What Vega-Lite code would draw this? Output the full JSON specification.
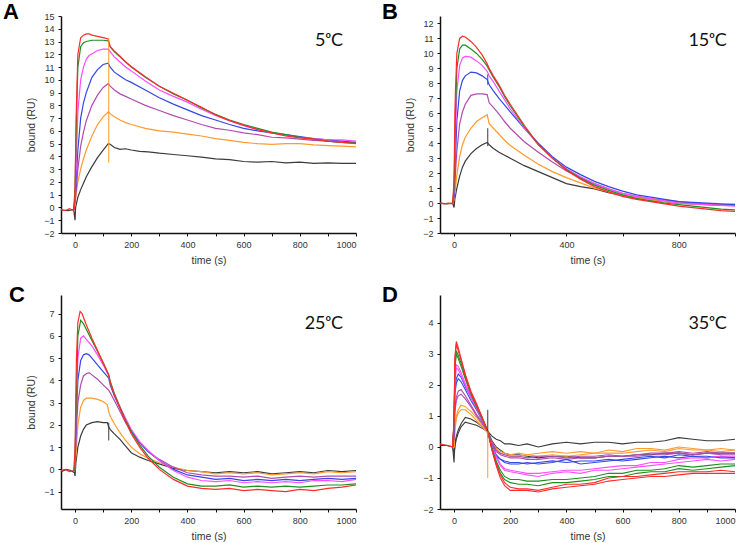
{
"$schema":"https://vega.github.io/schema/vega-lite/v6.json",
"padding":{"left":3,"top":1,"right":0,"bottom":0},
"config":{"view":{"stroke":null},"axis":{"grid":false,"domainColor":"#111","domainWidth":1.5,"tickColor":"#111","tickWidth":1,"tickSize":3,"labelFont":"Liberation Sans","labelFontSize":9,"labelColor":"#333","labelPadding":4,"titleFont":"Liberation Sans","titleFontSize":10.5,"titleFontWeight":"normal","titleColor":"#333"},"axisX":{"titlePadding":6},"axisY":{"titlePadding":7}},
"datasets":{
"S":[{"p":"A","c":"o","t":120,"y":3.5,"y2":13.3},{"p":"B","c":"k","t":120,"y":3.8,"y2":5.0},{"p":"B","c":"b","t":120,"y":7.9,"y2":8.6},{"p":"C","c":"k","t":120,"y":1.3,"y2":2.1},{"p":"D","c":"k","t":120,"y":0.3,"y2":1.2},{"p":"D","c":"o","t":120,"y":-1.0,"y2":0.5}],
"L":[{"p":"A","k":"L","t":-256,"y":14.76,"txt":"A"},{"p":"A","k":"T","t":954,"y":12.65,"txt":"5ᵒC"},
{"p":"B","k":"L","t":-256,"y":12.28,"txt":"B"},{"p":"B","k":"T","t":971,"y":10.5,"txt":"15ᵒC"},
{"p":"C","k":"L","t":-235,"y":7.53,"txt":"C"},{"p":"C","k":"T","t":954,"y":6.31,"txt":"25ᵒC"},
{"p":"D","k":"L","t":-256,"y":4.67,"txt":"D"},{"p":"D","k":"T","t":971,"y":3.8,"txt":"35ᵒC"}],
"A":[
{"c":"k","t":-50,"y":-0.2},{"c":"k","t":-25,"y":-0.25},{"c":"k","t":-5,"y":-0.15},{"c":"k","t":0,"y":-1.0},{"c":"k","t":2,"y":0.0},{"c":"k","t":5,"y":0.3},{"c":"k","t":10,"y":0.8},{"c":"k","t":20,"y":1.4},{"c":"k","t":30,"y":1.9},{"c":"k","t":40,"y":2.4},{"c":"k","t":60,"y":3.2},{"c":"k","t":80,"y":3.9},{"c":"k","t":100,"y":4.5},{"c":"k","t":118,"y":5.0},{"c":"k","t":125,"y":4.95},{"c":"k","t":140,"y":4.7},{"c":"k","t":160,"y":4.55},{"c":"k","t":180,"y":4.6},{"c":"k","t":200,"y":4.5},{"c":"k","t":230,"y":4.4},{"c":"k","t":260,"y":4.35},{"c":"k","t":300,"y":4.25},{"c":"k","t":350,"y":4.15},{"c":"k","t":400,"y":4.05},{"c":"k","t":450,"y":3.95},{"c":"k","t":500,"y":3.8},{"c":"k","t":550,"y":3.75},{"c":"k","t":600,"y":3.6},{"c":"k","t":650,"y":3.55},{"c":"k","t":700,"y":3.6},{"c":"k","t":750,"y":3.5},{"c":"k","t":800,"y":3.55},{"c":"k","t":850,"y":3.45},{"c":"k","t":900,"y":3.5},{"c":"k","t":950,"y":3.45},{"c":"k","t":1000,"y":3.45},
{"c":"o","t":-5,"y":-0.2},{"c":"o","t":0,"y":0.3},{"c":"o","t":5,"y":1.2},{"c":"o","t":10,"y":2.0},{"c":"o","t":20,"y":3.0},{"c":"o","t":30,"y":3.8},{"c":"o","t":40,"y":4.5},{"c":"o","t":60,"y":5.6},{"c":"o","t":80,"y":6.5},{"c":"o","t":100,"y":7.1},{"c":"o","t":118,"y":7.5},{"c":"o","t":125,"y":7.35},{"c":"o","t":140,"y":7.1},{"c":"o","t":160,"y":6.85},{"c":"o","t":180,"y":6.65},{"c":"o","t":200,"y":6.5},{"c":"o","t":250,"y":6.2},{"c":"o","t":300,"y":6.0},{"c":"o","t":350,"y":5.9},{"c":"o","t":400,"y":5.75},{"c":"o","t":450,"y":5.6},{"c":"o","t":500,"y":5.4},{"c":"o","t":550,"y":5.25},{"c":"o","t":600,"y":5.1},{"c":"o","t":650,"y":5.0},{"c":"o","t":700,"y":4.95},{"c":"o","t":750,"y":5.0},{"c":"o","t":800,"y":5.0},{"c":"o","t":850,"y":4.9},{"c":"o","t":900,"y":4.85},{"c":"o","t":950,"y":4.8},{"c":"o","t":1000,"y":4.75},
{"c":"p","t":-5,"y":-0.2},{"c":"p","t":0,"y":0.5},{"c":"p","t":5,"y":1.5},{"c":"p","t":10,"y":3.0},{"c":"p","t":20,"y":4.8},{"c":"p","t":30,"y":5.9},{"c":"p","t":40,"y":6.8},{"c":"p","t":60,"y":8.0},{"c":"p","t":80,"y":8.8},{"c":"p","t":100,"y":9.4},{"c":"p","t":118,"y":9.7},{"c":"p","t":125,"y":9.5},{"c":"p","t":140,"y":9.2},{"c":"p","t":160,"y":8.9},{"c":"p","t":180,"y":8.7},{"c":"p","t":200,"y":8.5},{"c":"p","t":250,"y":8.0},{"c":"p","t":300,"y":7.6},{"c":"p","t":350,"y":7.2},{"c":"p","t":400,"y":6.85},{"c":"p","t":450,"y":6.5},{"c":"p","t":500,"y":6.2},{"c":"p","t":550,"y":6.05},{"c":"p","t":600,"y":5.85},{"c":"p","t":650,"y":5.7},{"c":"p","t":700,"y":5.5},{"c":"p","t":750,"y":5.45},{"c":"p","t":800,"y":5.35},{"c":"p","t":850,"y":5.25},{"c":"p","t":900,"y":5.2},{"c":"p","t":950,"y":5.1},{"c":"p","t":1000,"y":5.05},
{"c":"b","t":-5,"y":-0.2},{"c":"b","t":0,"y":0.7},{"c":"b","t":5,"y":2.5},{"c":"b","t":10,"y":4.5},{"c":"b","t":20,"y":7.0},{"c":"b","t":30,"y":8.2},{"c":"b","t":40,"y":9.0},{"c":"b","t":60,"y":10.2},{"c":"b","t":80,"y":10.8},{"c":"b","t":100,"y":11.2},{"c":"b","t":118,"y":11.3},{"c":"b","t":125,"y":11.0},{"c":"b","t":140,"y":10.6},{"c":"b","t":160,"y":10.3},{"c":"b","t":180,"y":10.0},{"c":"b","t":200,"y":9.8},{"c":"b","t":250,"y":9.2},{"c":"b","t":300,"y":8.6},{"c":"b","t":350,"y":8.1},{"c":"b","t":400,"y":7.65},{"c":"b","t":450,"y":7.2},{"c":"b","t":500,"y":6.85},{"c":"b","t":550,"y":6.5},{"c":"b","t":600,"y":6.2},{"c":"b","t":650,"y":6.0},{"c":"b","t":700,"y":5.85},{"c":"b","t":750,"y":5.7},{"c":"b","t":800,"y":5.55},{"c":"b","t":850,"y":5.4},{"c":"b","t":900,"y":5.3},{"c":"b","t":950,"y":5.2},{"c":"b","t":1000,"y":5.1},
{"c":"m","t":-5,"y":-0.2},{"c":"m","t":0,"y":1.0},{"c":"m","t":5,"y":4.0},{"c":"m","t":10,"y":7.5},{"c":"m","t":20,"y":10.0},{"c":"m","t":30,"y":11.0},{"c":"m","t":40,"y":11.6},{"c":"m","t":50,"y":11.9},{"c":"m","t":80,"y":12.3},{"c":"m","t":100,"y":12.4},{"c":"m","t":118,"y":12.4},{"c":"m","t":125,"y":12.2},{"c":"m","t":140,"y":11.8},{"c":"m","t":160,"y":11.4},{"c":"m","t":180,"y":11.0},{"c":"m","t":200,"y":10.7},{"c":"m","t":250,"y":9.9},{"c":"m","t":300,"y":9.2},{"c":"m","t":350,"y":8.7},{"c":"m","t":400,"y":8.25},{"c":"m","t":450,"y":7.7},{"c":"m","t":500,"y":7.2},{"c":"m","t":550,"y":6.8},{"c":"m","t":600,"y":6.4},{"c":"m","t":650,"y":6.1},{"c":"m","t":700,"y":5.85},{"c":"m","t":750,"y":5.65},{"c":"m","t":800,"y":5.5},{"c":"m","t":850,"y":5.4},{"c":"m","t":900,"y":5.3},{"c":"m","t":950,"y":5.3},{"c":"m","t":1000,"y":5.2},
{"c":"g","t":-5,"y":-0.2},{"c":"g","t":0,"y":1.5},{"c":"g","t":5,"y":7.0},{"c":"g","t":10,"y":11.0},{"c":"g","t":20,"y":12.6},{"c":"g","t":30,"y":12.9},{"c":"g","t":40,"y":13.0},{"c":"g","t":60,"y":13.1},{"c":"g","t":80,"y":13.1},{"c":"g","t":100,"y":13.1},{"c":"g","t":118,"y":13.05},{"c":"g","t":125,"y":12.6},{"c":"g","t":140,"y":12.2},{"c":"g","t":160,"y":11.8},{"c":"g","t":180,"y":11.4},{"c":"g","t":200,"y":11.0},{"c":"g","t":250,"y":10.2},{"c":"g","t":300,"y":9.5},{"c":"g","t":350,"y":8.9},{"c":"g","t":400,"y":8.4},{"c":"g","t":450,"y":7.8},{"c":"g","t":500,"y":7.3},{"c":"g","t":550,"y":6.85},{"c":"g","t":600,"y":6.5},{"c":"g","t":650,"y":6.2},{"c":"g","t":700,"y":5.9},{"c":"g","t":750,"y":5.7},{"c":"g","t":800,"y":5.5},{"c":"g","t":850,"y":5.35},{"c":"g","t":900,"y":5.2},{"c":"g","t":950,"y":5.1},{"c":"g","t":1000,"y":5.05},
{"c":"r","t":-50,"y":-0.15},{"c":"r","t":-40,"y":-0.25},{"c":"r","t":-30,"y":-0.2},{"c":"r","t":-20,"y":-0.1},{"c":"r","t":-10,"y":-0.2},{"c":"r","t":-2,"y":-0.15},{"c":"r","t":0,"y":1.5},{"c":"r","t":3,"y":6.0},{"c":"r","t":5,"y":8.0},{"c":"r","t":10,"y":12.0},{"c":"r","t":20,"y":13.3},{"c":"r","t":30,"y":13.5},{"c":"r","t":40,"y":13.6},{"c":"r","t":50,"y":13.6},{"c":"r","t":60,"y":13.5},{"c":"r","t":80,"y":13.4},{"c":"r","t":100,"y":13.3},{"c":"r","t":118,"y":13.2},{"c":"r","t":125,"y":12.6},{"c":"r","t":140,"y":12.25},{"c":"r","t":160,"y":11.85},{"c":"r","t":180,"y":11.4},{"c":"r","t":200,"y":11.05},{"c":"r","t":250,"y":10.25},{"c":"r","t":300,"y":9.5},{"c":"r","t":350,"y":8.95},{"c":"r","t":400,"y":8.4},{"c":"r","t":450,"y":7.85},{"c":"r","t":500,"y":7.25},{"c":"r","t":550,"y":6.8},{"c":"r","t":600,"y":6.45},{"c":"r","t":650,"y":6.1},{"c":"r","t":700,"y":5.85},{"c":"r","t":750,"y":5.6},{"c":"r","t":800,"y":5.45},{"c":"r","t":850,"y":5.35},{"c":"r","t":900,"y":5.2},{"c":"r","t":950,"y":5.1},{"c":"r","t":1000,"y":5.0}],
"B":[
{"c":"k","t":-50,"y":0.0},{"c":"k","t":-25,"y":-0.05},{"c":"k","t":-5,"y":0.0},{"c":"k","t":0,"y":-0.3},{"c":"k","t":3,"y":0.3},{"c":"k","t":5,"y":0.5},{"c":"k","t":10,"y":1.0},{"c":"k","t":20,"y":1.8},{"c":"k","t":30,"y":2.4},{"c":"k","t":40,"y":2.8},{"c":"k","t":60,"y":3.3},{"c":"k","t":80,"y":3.65},{"c":"k","t":100,"y":3.9},{"c":"k","t":118,"y":4.05},{"c":"k","t":125,"y":3.9},{"c":"k","t":140,"y":3.65},{"c":"k","t":160,"y":3.4},{"c":"k","t":180,"y":3.2},{"c":"k","t":200,"y":3.0},{"c":"k","t":250,"y":2.5},{"c":"k","t":300,"y":2.1},{"c":"k","t":350,"y":1.7},{"c":"k","t":400,"y":1.3},{"c":"k","t":450,"y":1.1},{"c":"k","t":500,"y":0.95},{"c":"k","t":550,"y":0.7},{"c":"k","t":600,"y":0.5},{"c":"k","t":650,"y":0.35},{"c":"k","t":700,"y":0.2},{"c":"k","t":750,"y":0.1},{"c":"k","t":800,"y":0.0},{"c":"k","t":850,"y":-0.05},{"c":"k","t":900,"y":-0.1},{"c":"k","t":950,"y":-0.15},{"c":"k","t":1000,"y":-0.1},
{"c":"o","t":-5,"y":0.0},{"c":"o","t":0,"y":0.2},{"c":"o","t":5,"y":1.0},{"c":"o","t":10,"y":1.9},{"c":"o","t":20,"y":3.1},{"c":"o","t":30,"y":3.9},{"c":"o","t":40,"y":4.4},{"c":"o","t":60,"y":5.0},{"c":"o","t":80,"y":5.45},{"c":"o","t":100,"y":5.7},{"c":"o","t":118,"y":5.9},{"c":"o","t":125,"y":5.3},{"c":"o","t":140,"y":5.0},{"c":"o","t":160,"y":4.6},{"c":"o","t":180,"y":4.2},{"c":"o","t":200,"y":3.85},{"c":"o","t":250,"y":3.2},{"c":"o","t":300,"y":2.6},{"c":"o","t":350,"y":2.1},{"c":"o","t":400,"y":1.7},{"c":"o","t":450,"y":1.35},{"c":"o","t":500,"y":1.0},{"c":"o","t":550,"y":0.75},{"c":"o","t":600,"y":0.5},{"c":"o","t":650,"y":0.35},{"c":"o","t":700,"y":0.2},{"c":"o","t":750,"y":0.1},{"c":"o","t":800,"y":0.0},{"c":"o","t":850,"y":-0.05},{"c":"o","t":900,"y":-0.1},{"c":"o","t":950,"y":-0.1},{"c":"o","t":1000,"y":-0.05},
{"c":"p","t":-5,"y":0.0},{"c":"p","t":0,"y":0.3},{"c":"p","t":5,"y":2.0},{"c":"p","t":10,"y":3.5},{"c":"p","t":20,"y":5.3},{"c":"p","t":30,"y":6.1},{"c":"p","t":40,"y":6.6},{"c":"p","t":60,"y":7.2},{"c":"p","t":80,"y":7.3},{"c":"p","t":100,"y":7.3},{"c":"p","t":118,"y":7.25},{"c":"p","t":125,"y":6.7},{"c":"p","t":140,"y":6.4},{"c":"p","t":160,"y":5.95},{"c":"p","t":180,"y":5.45},{"c":"p","t":200,"y":5.0},{"c":"p","t":250,"y":4.1},{"c":"p","t":300,"y":3.4},{"c":"p","t":350,"y":2.75},{"c":"p","t":400,"y":2.15},{"c":"p","t":450,"y":1.7},{"c":"p","t":500,"y":1.3},{"c":"p","t":550,"y":0.95},{"c":"p","t":600,"y":0.65},{"c":"p","t":650,"y":0.45},{"c":"p","t":700,"y":0.3},{"c":"p","t":750,"y":0.2},{"c":"p","t":800,"y":0.1},{"c":"p","t":850,"y":0.0},{"c":"p","t":900,"y":-0.05},{"c":"p","t":950,"y":-0.1},{"c":"p","t":1000,"y":-0.15},
{"c":"b","t":-5,"y":0.0},{"c":"b","t":0,"y":0.5},{"c":"b","t":5,"y":3.0},{"c":"b","t":10,"y":5.5},{"c":"b","t":20,"y":7.5},{"c":"b","t":30,"y":8.2},{"c":"b","t":40,"y":8.5},{"c":"b","t":60,"y":8.75},{"c":"b","t":80,"y":8.7},{"c":"b","t":100,"y":8.5},{"c":"b","t":118,"y":8.25},{"c":"b","t":125,"y":7.9},{"c":"b","t":140,"y":7.5},{"c":"b","t":160,"y":7.0},{"c":"b","t":180,"y":6.55},{"c":"b","t":200,"y":6.1},{"c":"b","t":250,"y":5.0},{"c":"b","t":300,"y":4.0},{"c":"b","t":350,"y":3.1},{"c":"b","t":400,"y":2.4},{"c":"b","t":450,"y":1.9},{"c":"b","t":500,"y":1.45},{"c":"b","t":550,"y":1.1},{"c":"b","t":600,"y":0.8},{"c":"b","t":650,"y":0.55},{"c":"b","t":700,"y":0.4},{"c":"b","t":750,"y":0.25},{"c":"b","t":800,"y":0.1},{"c":"b","t":850,"y":0.05},{"c":"b","t":900,"y":0.0},{"c":"b","t":950,"y":-0.05},{"c":"b","t":1000,"y":-0.1},
{"c":"m","t":-5,"y":0.0},{"c":"m","t":0,"y":0.8},{"c":"m","t":5,"y":4.5},{"c":"m","t":10,"y":7.5},{"c":"m","t":20,"y":9.2},{"c":"m","t":30,"y":9.7},{"c":"m","t":40,"y":9.8},{"c":"m","t":60,"y":9.75},{"c":"m","t":80,"y":9.5},{"c":"m","t":100,"y":9.2},{"c":"m","t":118,"y":8.8},{"c":"m","t":125,"y":8.5},{"c":"m","t":140,"y":8.1},{"c":"m","t":160,"y":7.5},{"c":"m","t":180,"y":6.9},{"c":"m","t":200,"y":6.3},{"c":"m","t":250,"y":5.0},{"c":"m","t":300,"y":3.9},{"c":"m","t":350,"y":3.0},{"c":"m","t":400,"y":2.3},{"c":"m","t":450,"y":1.75},{"c":"m","t":500,"y":1.3},{"c":"m","t":550,"y":0.95},{"c":"m","t":600,"y":0.65},{"c":"m","t":650,"y":0.45},{"c":"m","t":700,"y":0.3},{"c":"m","t":750,"y":0.15},{"c":"m","t":800,"y":0.0},{"c":"m","t":850,"y":-0.05},{"c":"m","t":900,"y":-0.1},{"c":"m","t":950,"y":-0.15},{"c":"m","t":1000,"y":-0.2},
{"c":"g","t":-5,"y":0.0},{"c":"g","t":0,"y":1.0},{"c":"g","t":5,"y":6.0},{"c":"g","t":10,"y":9.0},{"c":"g","t":20,"y":10.3},{"c":"g","t":30,"y":10.55},{"c":"g","t":40,"y":10.55},{"c":"g","t":60,"y":10.3},{"c":"g","t":80,"y":10.0},{"c":"g","t":100,"y":9.6},{"c":"g","t":118,"y":9.15},{"c":"g","t":125,"y":8.9},{"c":"g","t":140,"y":8.4},{"c":"g","t":160,"y":7.8},{"c":"g","t":180,"y":7.1},{"c":"g","t":200,"y":6.5},{"c":"g","t":250,"y":5.1},{"c":"g","t":300,"y":3.9},{"c":"g","t":350,"y":3.0},{"c":"g","t":400,"y":2.25},{"c":"g","t":450,"y":1.65},{"c":"g","t":500,"y":1.2},{"c":"g","t":550,"y":0.85},{"c":"g","t":600,"y":0.55},{"c":"g","t":650,"y":0.3},{"c":"g","t":700,"y":0.15},{"c":"g","t":750,"y":0.0},{"c":"g","t":800,"y":-0.1},{"c":"g","t":850,"y":-0.2},{"c":"g","t":900,"y":-0.3},{"c":"g","t":950,"y":-0.4},{"c":"g","t":1000,"y":-0.45},
{"c":"r","t":-50,"y":0.0},{"c":"r","t":-35,"y":-0.05},{"c":"r","t":-20,"y":0.0},{"c":"r","t":-5,"y":-0.05},{"c":"r","t":0,"y":1.5},{"c":"r","t":3,"y":6.0},{"c":"r","t":5,"y":7.5},{"c":"r","t":10,"y":10.0},{"c":"r","t":20,"y":11.0},{"c":"r","t":30,"y":11.15},{"c":"r","t":40,"y":11.1},{"c":"r","t":60,"y":10.8},{"c":"r","t":80,"y":10.4},{"c":"r","t":100,"y":9.9},{"c":"r","t":118,"y":9.3},{"c":"r","t":125,"y":9.0},{"c":"r","t":140,"y":8.5},{"c":"r","t":160,"y":7.9},{"c":"r","t":180,"y":7.2},{"c":"r","t":200,"y":6.6},{"c":"r","t":250,"y":5.2},{"c":"r","t":300,"y":3.9},{"c":"r","t":350,"y":3.0},{"c":"r","t":400,"y":2.2},{"c":"r","t":450,"y":1.6},{"c":"r","t":500,"y":1.1},{"c":"r","t":550,"y":0.75},{"c":"r","t":600,"y":0.45},{"c":"r","t":650,"y":0.25},{"c":"r","t":700,"y":0.1},{"c":"r","t":750,"y":-0.05},{"c":"r","t":800,"y":-0.2},{"c":"r","t":850,"y":-0.3},{"c":"r","t":900,"y":-0.4},{"c":"r","t":950,"y":-0.5},{"c":"r","t":1000,"y":-0.55}],
"C":[
{"c":"k","t":-50,"y":-0.1},{"c":"k","t":-30,"y":0.0},{"c":"k","t":-15,"y":-0.05},{"c":"k","t":-2,"y":-0.15},{"c":"k","t":0,"y":-0.3},{"c":"k","t":3,"y":0.3},{"c":"k","t":5,"y":0.5},{"c":"k","t":10,"y":1.0},{"c":"k","t":20,"y":1.5},{"c":"k","t":30,"y":1.8},{"c":"k","t":40,"y":2.0},{"c":"k","t":60,"y":2.1},{"c":"k","t":80,"y":2.15},{"c":"k","t":100,"y":2.1},{"c":"k","t":115,"y":2.1},{"c":"k","t":120,"y":1.9},{"c":"k","t":125,"y":1.8},{"c":"k","t":140,"y":1.6},{"c":"k","t":160,"y":1.35},{"c":"k","t":180,"y":1.05},{"c":"k","t":200,"y":0.75},{"c":"k","t":230,"y":0.55},{"c":"k","t":260,"y":0.4},{"c":"k","t":300,"y":0.25},{"c":"k","t":350,"y":0.05},{"c":"k","t":400,"y":-0.05},{"c":"k","t":450,"y":-0.1},{"c":"k","t":500,"y":-0.15},{"c":"k","t":550,"y":-0.1},{"c":"k","t":600,"y":-0.15},{"c":"k","t":650,"y":-0.1},{"c":"k","t":700,"y":-0.2},{"c":"k","t":750,"y":-0.15},{"c":"k","t":800,"y":-0.1},{"c":"k","t":850,"y":-0.15},{"c":"k","t":900,"y":-0.05},{"c":"k","t":950,"y":-0.1},{"c":"k","t":1000,"y":-0.05},
{"c":"o","t":-2,"y":-0.1},{"c":"o","t":0,"y":0.1},{"c":"o","t":5,"y":1.0},{"c":"o","t":10,"y":2.0},{"c":"o","t":20,"y":2.8},{"c":"o","t":30,"y":3.1},{"c":"o","t":40,"y":3.2},{"c":"o","t":60,"y":3.2},{"c":"o","t":80,"y":3.15},{"c":"o","t":100,"y":3.05},{"c":"o","t":115,"y":2.9},{"c":"o","t":120,"y":2.6},{"c":"o","t":125,"y":2.4},{"c":"o","t":140,"y":2.05},{"c":"o","t":160,"y":1.65},{"c":"o","t":180,"y":1.3},{"c":"o","t":200,"y":1.0},{"c":"o","t":230,"y":0.7},{"c":"o","t":260,"y":0.5},{"c":"o","t":300,"y":0.3},{"c":"o","t":350,"y":0.1},{"c":"o","t":400,"y":-0.05},{"c":"o","t":450,"y":-0.1},{"c":"o","t":500,"y":-0.2},{"c":"o","t":550,"y":-0.15},{"c":"o","t":600,"y":-0.2},{"c":"o","t":650,"y":-0.15},{"c":"o","t":700,"y":-0.25},{"c":"o","t":750,"y":-0.2},{"c":"o","t":800,"y":-0.15},{"c":"o","t":850,"y":-0.2},{"c":"o","t":900,"y":-0.1},{"c":"o","t":950,"y":-0.15},{"c":"o","t":1000,"y":-0.1},
{"c":"p","t":-2,"y":-0.1},{"c":"p","t":0,"y":0.3},{"c":"p","t":5,"y":1.8},{"c":"p","t":10,"y":3.0},{"c":"p","t":20,"y":3.8},{"c":"p","t":30,"y":4.2},{"c":"p","t":40,"y":4.3},{"c":"p","t":50,"y":4.35},{"c":"p","t":60,"y":4.25},{"c":"p","t":80,"y":4.05},{"c":"p","t":100,"y":3.8},{"c":"p","t":120,"y":3.55},{"c":"p","t":125,"y":3.45},{"c":"p","t":140,"y":3.1},{"c":"p","t":160,"y":2.6},{"c":"p","t":180,"y":2.1},{"c":"p","t":200,"y":1.7},{"c":"p","t":230,"y":1.2},{"c":"p","t":260,"y":0.8},{"c":"p","t":300,"y":0.45},{"c":"p","t":350,"y":0.1},{"c":"p","t":400,"y":-0.15},{"c":"p","t":450,"y":-0.25},{"c":"p","t":500,"y":-0.3},{"c":"p","t":550,"y":-0.3},{"c":"p","t":600,"y":-0.35},{"c":"p","t":650,"y":-0.3},{"c":"p","t":700,"y":-0.4},{"c":"p","t":750,"y":-0.35},{"c":"p","t":800,"y":-0.3},{"c":"p","t":850,"y":-0.35},{"c":"p","t":900,"y":-0.3},{"c":"p","t":950,"y":-0.3},{"c":"p","t":1000,"y":-0.3},
{"c":"b","t":-2,"y":-0.1},{"c":"b","t":0,"y":0.4},{"c":"b","t":5,"y":2.5},{"c":"b","t":10,"y":4.0},{"c":"b","t":20,"y":4.9},{"c":"b","t":30,"y":5.15},{"c":"b","t":40,"y":5.2},{"c":"b","t":50,"y":5.15},{"c":"b","t":60,"y":5.0},{"c":"b","t":80,"y":4.7},{"c":"b","t":100,"y":4.4},{"c":"b","t":120,"y":4.1},{"c":"b","t":125,"y":3.8},{"c":"b","t":140,"y":3.3},{"c":"b","t":160,"y":2.75},{"c":"b","t":180,"y":2.2},{"c":"b","t":200,"y":1.75},{"c":"b","t":230,"y":1.2},{"c":"b","t":260,"y":0.8},{"c":"b","t":300,"y":0.4},{"c":"b","t":350,"y":0.0},{"c":"b","t":400,"y":-0.25},{"c":"b","t":450,"y":-0.35},{"c":"b","t":500,"y":-0.45},{"c":"b","t":550,"y":-0.4},{"c":"b","t":600,"y":-0.5},{"c":"b","t":650,"y":-0.45},{"c":"b","t":700,"y":-0.5},{"c":"b","t":750,"y":-0.45},{"c":"b","t":800,"y":-0.5},{"c":"b","t":850,"y":-0.45},{"c":"b","t":900,"y":-0.4},{"c":"b","t":950,"y":-0.45},{"c":"b","t":1000,"y":-0.4},
{"c":"m","t":-2,"y":-0.1},{"c":"m","t":0,"y":0.5},{"c":"m","t":5,"y":3.0},{"c":"m","t":10,"y":5.0},{"c":"m","t":20,"y":5.9},{"c":"m","t":30,"y":6.0},{"c":"m","t":40,"y":5.85},{"c":"m","t":60,"y":5.55},{"c":"m","t":80,"y":5.15},{"c":"m","t":100,"y":4.7},{"c":"m","t":120,"y":4.2},{"c":"m","t":125,"y":3.9},{"c":"m","t":140,"y":3.4},{"c":"m","t":160,"y":2.8},{"c":"m","t":180,"y":2.3},{"c":"m","t":200,"y":1.8},{"c":"m","t":230,"y":1.25},{"c":"m","t":260,"y":0.85},{"c":"m","t":300,"y":0.4},{"c":"m","t":350,"y":-0.05},{"c":"m","t":400,"y":-0.35},{"c":"m","t":450,"y":-0.5},{"c":"m","t":500,"y":-0.55},{"c":"m","t":550,"y":-0.5},{"c":"m","t":600,"y":-0.6},{"c":"m","t":650,"y":-0.55},{"c":"m","t":700,"y":-0.6},{"c":"m","t":750,"y":-0.55},{"c":"m","t":800,"y":-0.6},{"c":"m","t":850,"y":-0.5},{"c":"m","t":900,"y":-0.5},{"c":"m","t":950,"y":-0.55},{"c":"m","t":1000,"y":-0.45},
{"c":"g","t":-2,"y":-0.1},{"c":"g","t":0,"y":0.7},{"c":"g","t":5,"y":3.5},{"c":"g","t":10,"y":6.0},{"c":"g","t":20,"y":6.7},{"c":"g","t":30,"y":6.55},{"c":"g","t":40,"y":6.3},{"c":"g","t":60,"y":5.8},{"c":"g","t":80,"y":5.3},{"c":"g","t":100,"y":4.8},{"c":"g","t":120,"y":4.25},{"c":"g","t":125,"y":3.95},{"c":"g","t":140,"y":3.4},{"c":"g","t":160,"y":2.8},{"c":"g","t":180,"y":2.2},{"c":"g","t":200,"y":1.7},{"c":"g","t":230,"y":1.1},{"c":"g","t":260,"y":0.6},{"c":"g","t":300,"y":0.1},{"c":"g","t":350,"y":-0.35},{"c":"g","t":400,"y":-0.65},{"c":"g","t":450,"y":-0.75},{"c":"g","t":500,"y":-0.75},{"c":"g","t":550,"y":-0.7},{"c":"g","t":600,"y":-0.8},{"c":"g","t":650,"y":-0.75},{"c":"g","t":700,"y":-0.8},{"c":"g","t":750,"y":-0.75},{"c":"g","t":800,"y":-0.8},{"c":"g","t":850,"y":-0.75},{"c":"g","t":900,"y":-0.7},{"c":"g","t":950,"y":-0.7},{"c":"g","t":1000,"y":-0.65},
{"c":"r","t":-50,"y":-0.05},{"c":"r","t":-35,"y":0.0},{"c":"r","t":-20,"y":-0.1},{"c":"r","t":-5,"y":-0.05},{"c":"r","t":0,"y":0.8},{"c":"r","t":3,"y":3.5},{"c":"r","t":5,"y":5.0},{"c":"r","t":10,"y":6.6},{"c":"r","t":18,"y":7.1},{"c":"r","t":25,"y":7.0},{"c":"r","t":40,"y":6.5},{"c":"r","t":60,"y":5.9},{"c":"r","t":80,"y":5.35},{"c":"r","t":100,"y":4.8},{"c":"r","t":120,"y":4.25},{"c":"r","t":125,"y":3.95},{"c":"r","t":140,"y":3.35},{"c":"r","t":160,"y":2.75},{"c":"r","t":180,"y":2.15},{"c":"r","t":200,"y":1.6},{"c":"r","t":230,"y":1.0},{"c":"r","t":260,"y":0.5},{"c":"r","t":300,"y":0.0},{"c":"r","t":350,"y":-0.45},{"c":"r","t":400,"y":-0.75},{"c":"r","t":450,"y":-0.85},{"c":"r","t":500,"y":-0.9},{"c":"r","t":550,"y":-0.85},{"c":"r","t":600,"y":-0.95},{"c":"r","t":650,"y":-0.9},{"c":"r","t":700,"y":-0.95},{"c":"r","t":750,"y":-1.0},{"c":"r","t":800,"y":-0.9},{"c":"r","t":850,"y":-0.95},{"c":"r","t":900,"y":-0.85},{"c":"r","t":950,"y":-0.8},{"c":"r","t":1000,"y":-0.7}],
"D":[
{"c":"k","s":"k1","t":-50,"y":0.05},{"c":"k","s":"k1","t":-25,"y":0.05},{"c":"k","s":"k1","t":-5,"y":0.0},{"c":"k","s":"k1","t":0,"y":-0.5},{"c":"k","s":"k1","t":3,"y":0.1},{"c":"k","s":"k1","t":8,"y":0.35},{"c":"k","s":"k1","t":15,"y":0.55},{"c":"k","s":"k1","t":25,"y":0.75},{"c":"k","s":"k1","t":40,"y":0.95},{"c":"k","s":"k1","t":60,"y":0.9},{"c":"k","s":"k1","t":80,"y":0.8},{"c":"k","s":"k1","t":100,"y":0.65},{"c":"k","s":"k1","t":120,"y":0.5},{"c":"k","s":"k1","t":135,"y":0.35},{"c":"k","s":"k1","t":150,"y":0.25},{"c":"k","s":"k1","t":165,"y":0.2},{"c":"k","s":"k1","t":180,"y":0.1},{"c":"k","s":"k1","t":200,"y":0.1},{"c":"k","s":"k1","t":230,"y":0.05},{"c":"k","s":"k1","t":260,"y":0.1},{"c":"k","s":"k1","t":300,"y":0.0},{"c":"k","s":"k1","t":350,"y":0.1},{"c":"k","s":"k1","t":400,"y":0.15},{"c":"k","s":"k1","t":450,"y":0.1},{"c":"k","s":"k1","t":500,"y":0.15},{"c":"k","s":"k1","t":550,"y":0.15},{"c":"k","s":"k1","t":600,"y":0.1},{"c":"k","s":"k1","t":650,"y":0.15},{"c":"k","s":"k1","t":700,"y":0.15},{"c":"k","s":"k1","t":750,"y":0.2},{"c":"k","s":"k1","t":800,"y":0.3},{"c":"k","s":"k1","t":850,"y":0.25},{"c":"k","s":"k1","t":900,"y":0.2},{"c":"k","s":"k1","t":950,"y":0.2},{"c":"k","s":"k1","t":1000,"y":0.25},
{"c":"k","s":"k2","t":-5,"y":0.0},{"c":"k","s":"k2","t":0,"y":-0.2},{"c":"k","s":"k2","t":3,"y":0.0},{"c":"k","s":"k2","t":8,"y":0.25},{"c":"k","s":"k2","t":15,"y":0.45},{"c":"k","s":"k2","t":25,"y":0.65},{"c":"k","s":"k2","t":40,"y":0.8},{"c":"k","s":"k2","t":60,"y":0.75},{"c":"k","s":"k2","t":80,"y":0.7},{"c":"k","s":"k2","t":100,"y":0.6},{"c":"k","s":"k2","t":120,"y":0.5},{"c":"k","s":"k2","t":135,"y":0.2},{"c":"k","s":"k2","t":150,"y":0.0},{"c":"k","s":"k2","t":165,"y":-0.1},{"c":"k","s":"k2","t":180,"y":-0.2},{"c":"k","s":"k2","t":200,"y":-0.25},{"c":"k","s":"k2","t":230,"y":-0.25},{"c":"k","s":"k2","t":260,"y":-0.3},{"c":"k","s":"k2","t":300,"y":-0.35},{"c":"k","s":"k2","t":350,"y":-0.3},{"c":"k","s":"k2","t":400,"y":-0.3},{"c":"k","s":"k2","t":450,"y":-0.35},{"c":"k","s":"k2","t":500,"y":-0.35},{"c":"k","s":"k2","t":550,"y":-0.3},{"c":"k","s":"k2","t":600,"y":-0.3},{"c":"k","s":"k2","t":650,"y":-0.25},{"c":"k","s":"k2","t":700,"y":-0.25},{"c":"k","s":"k2","t":750,"y":-0.2},{"c":"k","s":"k2","t":800,"y":-0.2},{"c":"k","s":"k2","t":850,"y":-0.25},{"c":"k","s":"k2","t":900,"y":-0.2},{"c":"k","s":"k2","t":950,"y":-0.2},{"c":"k","s":"k2","t":1000,"y":-0.2},
{"c":"o","s":"o1","t":-5,"y":0.0},{"c":"o","s":"o1","t":0,"y":0.0},{"c":"o","s":"o1","t":3,"y":0.6},{"c":"o","s":"o1","t":8,"y":1.0},{"c":"o","s":"o1","t":15,"y":1.2},{"c":"o","s":"o1","t":25,"y":1.35},{"c":"o","s":"o1","t":40,"y":1.3},{"c":"o","s":"o1","t":60,"y":1.15},{"c":"o","s":"o1","t":80,"y":0.95},{"c":"o","s":"o1","t":100,"y":0.7},{"c":"o","s":"o1","t":120,"y":0.45},{"c":"o","s":"o1","t":135,"y":0.15},{"c":"o","s":"o1","t":150,"y":-0.05},{"c":"o","s":"o1","t":165,"y":-0.15},{"c":"o","s":"o1","t":180,"y":-0.2},{"c":"o","s":"o1","t":200,"y":-0.25},{"c":"o","s":"o1","t":230,"y":-0.2},{"c":"o","s":"o1","t":260,"y":-0.25},{"c":"o","s":"o1","t":300,"y":-0.2},{"c":"o","s":"o1","t":350,"y":-0.15},{"c":"o","s":"o1","t":400,"y":-0.2},{"c":"o","s":"o1","t":450,"y":-0.15},{"c":"o","s":"o1","t":500,"y":-0.2},{"c":"o","s":"o1","t":550,"y":-0.1},{"c":"o","s":"o1","t":600,"y":-0.15},{"c":"o","s":"o1","t":650,"y":-0.05},{"c":"o","s":"o1","t":700,"y":-0.05},{"c":"o","s":"o1","t":750,"y":-0.1},{"c":"o","s":"o1","t":800,"y":0.0},{"c":"o","s":"o1","t":850,"y":-0.05},{"c":"o","s":"o1","t":900,"y":-0.1},{"c":"o","s":"o1","t":950,"y":-0.05},{"c":"o","s":"o1","t":1000,"y":-0.1},
{"c":"o","s":"o2","t":-5,"y":0.0},{"c":"o","s":"o2","t":0,"y":0.0},{"c":"o","s":"o2","t":3,"y":0.5},{"c":"o","s":"o2","t":8,"y":0.9},{"c":"o","s":"o2","t":15,"y":1.1},{"c":"o","s":"o2","t":25,"y":1.2},{"c":"o","s":"o2","t":40,"y":1.2},{"c":"o","s":"o2","t":60,"y":1.05},{"c":"o","s":"o2","t":80,"y":0.85},{"c":"o","s":"o2","t":100,"y":0.65},{"c":"o","s":"o2","t":120,"y":0.45},{"c":"o","s":"o2","t":135,"y":0.1},{"c":"o","s":"o2","t":150,"y":-0.1},{"c":"o","s":"o2","t":165,"y":-0.2},{"c":"o","s":"o2","t":180,"y":-0.25},{"c":"o","s":"o2","t":200,"y":-0.3},{"c":"o","s":"o2","t":230,"y":-0.3},{"c":"o","s":"o2","t":260,"y":-0.25},{"c":"o","s":"o2","t":300,"y":-0.3},{"c":"o","s":"o2","t":350,"y":-0.25},{"c":"o","s":"o2","t":400,"y":-0.3},{"c":"o","s":"o2","t":450,"y":-0.25},{"c":"o","s":"o2","t":500,"y":-0.2},{"c":"o","s":"o2","t":550,"y":-0.2},{"c":"o","s":"o2","t":600,"y":-0.2},{"c":"o","s":"o2","t":650,"y":-0.15},{"c":"o","s":"o2","t":700,"y":-0.1},{"c":"o","s":"o2","t":750,"y":-0.15},{"c":"o","s":"o2","t":800,"y":-0.05},{"c":"o","s":"o2","t":850,"y":-0.1},{"c":"o","s":"o2","t":900,"y":-0.1},{"c":"o","s":"o2","t":950,"y":-0.15},{"c":"o","s":"o2","t":1000,"y":-0.1},
{"c":"p","s":"p1","t":-5,"y":0.0},{"c":"p","s":"p1","t":0,"y":0.3},{"c":"p","s":"p1","t":3,"y":1.2},{"c":"p","s":"p1","t":8,"y":1.6},{"c":"p","s":"p1","t":15,"y":1.8},{"c":"p","s":"p1","t":25,"y":1.85},{"c":"p","s":"p1","t":40,"y":1.65},{"c":"p","s":"p1","t":60,"y":1.35},{"c":"p","s":"p1","t":80,"y":1.05},{"c":"p","s":"p1","t":100,"y":0.8},{"c":"p","s":"p1","t":120,"y":0.5},{"c":"p","s":"p1","t":135,"y":0.15},{"c":"p","s":"p1","t":150,"y":-0.1},{"c":"p","s":"p1","t":165,"y":-0.2},{"c":"p","s":"p1","t":180,"y":-0.25},{"c":"p","s":"p1","t":200,"y":-0.3},{"c":"p","s":"p1","t":230,"y":-0.3},{"c":"p","s":"p1","t":260,"y":-0.35},{"c":"p","s":"p1","t":300,"y":-0.3},{"c":"p","s":"p1","t":350,"y":-0.3},{"c":"p","s":"p1","t":400,"y":-0.35},{"c":"p","s":"p1","t":450,"y":-0.3},{"c":"p","s":"p1","t":500,"y":-0.3},{"c":"p","s":"p1","t":550,"y":-0.25},{"c":"p","s":"p1","t":600,"y":-0.3},{"c":"p","s":"p1","t":650,"y":-0.25},{"c":"p","s":"p1","t":700,"y":-0.2},{"c":"p","s":"p1","t":750,"y":-0.2},{"c":"p","s":"p1","t":800,"y":-0.15},{"c":"p","s":"p1","t":850,"y":-0.2},{"c":"p","s":"p1","t":900,"y":-0.15},{"c":"p","s":"p1","t":950,"y":-0.2},{"c":"p","s":"p1","t":1000,"y":-0.2},
{"c":"p","s":"p2","t":-5,"y":0.0},{"c":"p","s":"p2","t":0,"y":0.3},{"c":"p","s":"p2","t":3,"y":1.1},{"c":"p","s":"p2","t":8,"y":1.5},{"c":"p","s":"p2","t":15,"y":1.65},{"c":"p","s":"p2","t":25,"y":1.7},{"c":"p","s":"p2","t":40,"y":1.55},{"c":"p","s":"p2","t":60,"y":1.3},{"c":"p","s":"p2","t":80,"y":1.0},{"c":"p","s":"p2","t":100,"y":0.75},{"c":"p","s":"p2","t":120,"y":0.5},{"c":"p","s":"p2","t":135,"y":0.1},{"c":"p","s":"p2","t":150,"y":-0.15},{"c":"p","s":"p2","t":165,"y":-0.25},{"c":"p","s":"p2","t":180,"y":-0.3},{"c":"p","s":"p2","t":200,"y":-0.35},{"c":"p","s":"p2","t":230,"y":-0.35},{"c":"p","s":"p2","t":260,"y":-0.4},{"c":"p","s":"p2","t":300,"y":-0.4},{"c":"p","s":"p2","t":350,"y":-0.35},{"c":"p","s":"p2","t":400,"y":-0.4},{"c":"p","s":"p2","t":450,"y":-0.35},{"c":"p","s":"p2","t":500,"y":-0.35},{"c":"p","s":"p2","t":550,"y":-0.3},{"c":"p","s":"p2","t":600,"y":-0.3},{"c":"p","s":"p2","t":650,"y":-0.3},{"c":"p","s":"p2","t":700,"y":-0.25},{"c":"p","s":"p2","t":750,"y":-0.25},{"c":"p","s":"p2","t":800,"y":-0.2},{"c":"p","s":"p2","t":850,"y":-0.25},{"c":"p","s":"p2","t":900,"y":-0.2},{"c":"p","s":"p2","t":950,"y":-0.25},{"c":"p","s":"p2","t":1000,"y":-0.25},
{"c":"b","s":"b1","t":-5,"y":0.0},{"c":"b","s":"b1","t":0,"y":0.6},{"c":"b","s":"b1","t":3,"y":1.8},{"c":"b","s":"b1","t":8,"y":2.2},{"c":"b","s":"b1","t":15,"y":2.35},{"c":"b","s":"b1","t":25,"y":2.25},{"c":"b","s":"b1","t":40,"y":1.95},{"c":"b","s":"b1","t":60,"y":1.6},{"c":"b","s":"b1","t":80,"y":1.25},{"c":"b","s":"b1","t":100,"y":0.9},{"c":"b","s":"b1","t":120,"y":0.5},{"c":"b","s":"b1","t":135,"y":0.05},{"c":"b","s":"b1","t":150,"y":-0.25},{"c":"b","s":"b1","t":165,"y":-0.4},{"c":"b","s":"b1","t":180,"y":-0.45},{"c":"b","s":"b1","t":200,"y":-0.5},{"c":"b","s":"b1","t":230,"y":-0.5},{"c":"b","s":"b1","t":260,"y":-0.55},{"c":"b","s":"b1","t":300,"y":-0.5},{"c":"b","s":"b1","t":350,"y":-0.45},{"c":"b","s":"b1","t":400,"y":-0.5},{"c":"b","s":"b1","t":450,"y":-0.45},{"c":"b","s":"b1","t":500,"y":-0.45},{"c":"b","s":"b1","t":550,"y":-0.4},{"c":"b","s":"b1","t":600,"y":-0.45},{"c":"b","s":"b1","t":650,"y":-0.4},{"c":"b","s":"b1","t":700,"y":-0.35},{"c":"b","s":"b1","t":750,"y":-0.3},{"c":"b","s":"b1","t":800,"y":-0.35},{"c":"b","s":"b1","t":850,"y":-0.3},{"c":"b","s":"b1","t":900,"y":-0.3},{"c":"b","s":"b1","t":950,"y":-0.35},{"c":"b","s":"b1","t":1000,"y":-0.35},
{"c":"b","s":"b2","t":-5,"y":0.0},{"c":"b","s":"b2","t":0,"y":0.6},{"c":"b","s":"b2","t":3,"y":1.7},{"c":"b","s":"b2","t":8,"y":2.05},{"c":"b","s":"b2","t":15,"y":2.2},{"c":"b","s":"b2","t":25,"y":2.1},{"c":"b","s":"b2","t":40,"y":1.85},{"c":"b","s":"b2","t":60,"y":1.5},{"c":"b","s":"b2","t":80,"y":1.2},{"c":"b","s":"b2","t":100,"y":0.85},{"c":"b","s":"b2","t":120,"y":0.5},{"c":"b","s":"b2","t":135,"y":0.0},{"c":"b","s":"b2","t":150,"y":-0.3},{"c":"b","s":"b2","t":165,"y":-0.4},{"c":"b","s":"b2","t":180,"y":-0.5},{"c":"b","s":"b2","t":200,"y":-0.55},{"c":"b","s":"b2","t":230,"y":-0.55},{"c":"b","s":"b2","t":260,"y":-0.5},{"c":"b","s":"b2","t":300,"y":-0.55},{"c":"b","s":"b2","t":350,"y":-0.5},{"c":"b","s":"b2","t":400,"y":-0.4},{"c":"b","s":"b2","t":450,"y":-0.55},{"c":"b","s":"b2","t":500,"y":-0.5},{"c":"b","s":"b2","t":550,"y":-0.45},{"c":"b","s":"b2","t":600,"y":-0.4},{"c":"b","s":"b2","t":650,"y":-0.35},{"c":"b","s":"b2","t":700,"y":-0.3},{"c":"b","s":"b2","t":750,"y":-0.35},{"c":"b","s":"b2","t":800,"y":-0.25},{"c":"b","s":"b2","t":850,"y":-0.3},{"c":"b","s":"b2","t":900,"y":-0.35},{"c":"b","s":"b2","t":950,"y":-0.3},{"c":"b","s":"b2","t":1000,"y":-0.35},
{"c":"m","s":"m1","t":-5,"y":0.0},{"c":"m","s":"m1","t":0,"y":0.7},{"c":"m","s":"m1","t":3,"y":2.2},{"c":"m","s":"m1","t":8,"y":2.65},{"c":"m","s":"m1","t":15,"y":2.6},{"c":"m","s":"m1","t":25,"y":2.4},{"c":"m","s":"m1","t":40,"y":2.05},{"c":"m","s":"m1","t":60,"y":1.65},{"c":"m","s":"m1","t":80,"y":1.3},{"c":"m","s":"m1","t":100,"y":0.9},{"c":"m","s":"m1","t":120,"y":0.5},{"c":"m","s":"m1","t":135,"y":0.0},{"c":"m","s":"m1","t":150,"y":-0.35},{"c":"m","s":"m1","t":165,"y":-0.6},{"c":"m","s":"m1","t":180,"y":-0.75},{"c":"m","s":"m1","t":200,"y":-0.8},{"c":"m","s":"m1","t":230,"y":-0.85},{"c":"m","s":"m1","t":260,"y":-0.9},{"c":"m","s":"m1","t":300,"y":-0.95},{"c":"m","s":"m1","t":350,"y":-0.85},{"c":"m","s":"m1","t":400,"y":-0.8},{"c":"m","s":"m1","t":450,"y":-0.85},{"c":"m","s":"m1","t":500,"y":-0.75},{"c":"m","s":"m1","t":550,"y":-0.75},{"c":"m","s":"m1","t":600,"y":-0.7},{"c":"m","s":"m1","t":650,"y":-0.65},{"c":"m","s":"m1","t":700,"y":-0.6},{"c":"m","s":"m1","t":750,"y":-0.55},{"c":"m","s":"m1","t":800,"y":-0.5},{"c":"m","s":"m1","t":850,"y":-0.45},{"c":"m","s":"m1","t":900,"y":-0.4},{"c":"m","s":"m1","t":950,"y":-0.45},{"c":"m","s":"m1","t":1000,"y":-0.4},
{"c":"m","s":"m2","t":-5,"y":0.0},{"c":"m","s":"m2","t":0,"y":0.7},{"c":"m","s":"m2","t":3,"y":2.1},{"c":"m","s":"m2","t":8,"y":2.55},{"c":"m","s":"m2","t":15,"y":2.5},{"c":"m","s":"m2","t":25,"y":2.3},{"c":"m","s":"m2","t":40,"y":2.0},{"c":"m","s":"m2","t":60,"y":1.6},{"c":"m","s":"m2","t":80,"y":1.25},{"c":"m","s":"m2","t":100,"y":0.85},{"c":"m","s":"m2","t":120,"y":0.5},{"c":"m","s":"m2","t":135,"y":0.0},{"c":"m","s":"m2","t":150,"y":-0.3},{"c":"m","s":"m2","t":165,"y":-0.55},{"c":"m","s":"m2","t":180,"y":-0.7},{"c":"m","s":"m2","t":200,"y":-0.75},{"c":"m","s":"m2","t":230,"y":-0.8},{"c":"m","s":"m2","t":260,"y":-0.85},{"c":"m","s":"m2","t":300,"y":-0.85},{"c":"m","s":"m2","t":350,"y":-0.8},{"c":"m","s":"m2","t":400,"y":-0.75},{"c":"m","s":"m2","t":450,"y":-0.75},{"c":"m","s":"m2","t":500,"y":-0.7},{"c":"m","s":"m2","t":550,"y":-0.65},{"c":"m","s":"m2","t":600,"y":-0.6},{"c":"m","s":"m2","t":650,"y":-0.6},{"c":"m","s":"m2","t":700,"y":-0.5},{"c":"m","s":"m2","t":750,"y":-0.5},{"c":"m","s":"m2","t":800,"y":-0.4},{"c":"m","s":"m2","t":850,"y":-0.35},{"c":"m","s":"m2","t":900,"y":-0.35},{"c":"m","s":"m2","t":950,"y":-0.3},{"c":"m","s":"m2","t":1000,"y":-0.3},
{"c":"g","s":"g1","t":-5,"y":0.0},{"c":"g","s":"g1","t":0,"y":0.8},{"c":"g","s":"g1","t":3,"y":2.6},{"c":"g","s":"g1","t":8,"y":3.1},{"c":"g","s":"g1","t":15,"y":2.95},{"c":"g","s":"g1","t":25,"y":2.7},{"c":"g","s":"g1","t":40,"y":2.25},{"c":"g","s":"g1","t":60,"y":1.75},{"c":"g","s":"g1","t":80,"y":1.35},{"c":"g","s":"g1","t":100,"y":0.95},{"c":"g","s":"g1","t":120,"y":0.5},{"c":"g","s":"g1","t":135,"y":-0.05},{"c":"g","s":"g1","t":150,"y":-0.5},{"c":"g","s":"g1","t":165,"y":-0.85},{"c":"g","s":"g1","t":180,"y":-1.05},{"c":"g","s":"g1","t":200,"y":-1.15},{"c":"g","s":"g1","t":230,"y":-1.2},{"c":"g","s":"g1","t":260,"y":-1.2},{"c":"g","s":"g1","t":300,"y":-1.25},{"c":"g","s":"g1","t":350,"y":-1.15},{"c":"g","s":"g1","t":400,"y":-1.15},{"c":"g","s":"g1","t":450,"y":-1.1},{"c":"g","s":"g1","t":500,"y":-1.05},{"c":"g","s":"g1","t":550,"y":-0.95},{"c":"g","s":"g1","t":600,"y":-0.95},{"c":"g","s":"g1","t":650,"y":-0.85},{"c":"g","s":"g1","t":700,"y":-0.8},{"c":"g","s":"g1","t":750,"y":-0.8},{"c":"g","s":"g1","t":800,"y":-0.7},{"c":"g","s":"g1","t":850,"y":-0.75},{"c":"g","s":"g1","t":900,"y":-0.7},{"c":"g","s":"g1","t":950,"y":-0.65},{"c":"g","s":"g1","t":1000,"y":-0.6},
{"c":"g","s":"g2","t":-5,"y":0.0},{"c":"g","s":"g2","t":0,"y":0.8},{"c":"g","s":"g2","t":3,"y":2.5},{"c":"g","s":"g2","t":8,"y":3.0},{"c":"g","s":"g2","t":15,"y":2.85},{"c":"g","s":"g2","t":25,"y":2.6},{"c":"g","s":"g2","t":40,"y":2.2},{"c":"g","s":"g2","t":60,"y":1.7},{"c":"g","s":"g2","t":80,"y":1.3},{"c":"g","s":"g2","t":100,"y":0.9},{"c":"g","s":"g2","t":120,"y":0.5},{"c":"g","s":"g2","t":135,"y":-0.05},{"c":"g","s":"g2","t":150,"y":-0.45},{"c":"g","s":"g2","t":165,"y":-0.75},{"c":"g","s":"g2","t":180,"y":-0.95},{"c":"g","s":"g2","t":200,"y":-1.05},{"c":"g","s":"g2","t":230,"y":-1.05},{"c":"g","s":"g2","t":260,"y":-1.1},{"c":"g","s":"g2","t":300,"y":-1.1},{"c":"g","s":"g2","t":350,"y":-1.05},{"c":"g","s":"g2","t":400,"y":-1.05},{"c":"g","s":"g2","t":450,"y":-1.0},{"c":"g","s":"g2","t":500,"y":-0.95},{"c":"g","s":"g2","t":550,"y":-0.85},{"c":"g","s":"g2","t":600,"y":-0.85},{"c":"g","s":"g2","t":650,"y":-0.75},{"c":"g","s":"g2","t":700,"y":-0.75},{"c":"g","s":"g2","t":750,"y":-0.7},{"c":"g","s":"g2","t":800,"y":-0.6},{"c":"g","s":"g2","t":850,"y":-0.65},{"c":"g","s":"g2","t":900,"y":-0.6},{"c":"g","s":"g2","t":950,"y":-0.55},{"c":"g","s":"g2","t":1000,"y":-0.55},
{"c":"r","s":"r1","t":-50,"y":0.1},{"c":"r","s":"r1","t":-25,"y":0.05},{"c":"r","s":"r1","t":-5,"y":0.0},{"c":"r","s":"r1","t":0,"y":0.9},{"c":"r","s":"r1","t":3,"y":2.9},{"c":"r","s":"r1","t":8,"y":3.4},{"c":"r","s":"r1","t":15,"y":3.2},{"c":"r","s":"r1","t":25,"y":2.85},{"c":"r","s":"r1","t":40,"y":2.35},{"c":"r","s":"r1","t":60,"y":1.8},{"c":"r","s":"r1","t":80,"y":1.4},{"c":"r","s":"r1","t":100,"y":0.95},{"c":"r","s":"r1","t":120,"y":0.5},{"c":"r","s":"r1","t":135,"y":-0.1},{"c":"r","s":"r1","t":150,"y":-0.6},{"c":"r","s":"r1","t":165,"y":-1.0},{"c":"r","s":"r1","t":180,"y":-1.25},{"c":"r","s":"r1","t":200,"y":-1.4},{"c":"r","s":"r1","t":230,"y":-1.4},{"c":"r","s":"r1","t":260,"y":-1.4},{"c":"r","s":"r1","t":300,"y":-1.45},{"c":"r","s":"r1","t":350,"y":-1.35},{"c":"r","s":"r1","t":400,"y":-1.3},{"c":"r","s":"r1","t":450,"y":-1.25},{"c":"r","s":"r1","t":500,"y":-1.2},{"c":"r","s":"r1","t":550,"y":-1.1},{"c":"r","s":"r1","t":600,"y":-1.05},{"c":"r","s":"r1","t":650,"y":-1.0},{"c":"r","s":"r1","t":700,"y":-0.95},{"c":"r","s":"r1","t":750,"y":-0.95},{"c":"r","s":"r1","t":800,"y":-0.9},{"c":"r","s":"r1","t":850,"y":-0.85},{"c":"r","s":"r1","t":900,"y":-0.85},{"c":"r","s":"r1","t":950,"y":-0.85},{"c":"r","s":"r1","t":1000,"y":-0.85},
{"c":"r","s":"r2","t":-5,"y":0.0},{"c":"r","s":"r2","t":0,"y":0.9},{"c":"r","s":"r2","t":3,"y":2.8},{"c":"r","s":"r2","t":8,"y":3.3},{"c":"r","s":"r2","t":15,"y":3.1},{"c":"r","s":"r2","t":25,"y":2.8},{"c":"r","s":"r2","t":40,"y":2.3},{"c":"r","s":"r2","t":60,"y":1.75},{"c":"r","s":"r2","t":80,"y":1.35},{"c":"r","s":"r2","t":100,"y":0.95},{"c":"r","s":"r2","t":120,"y":0.5},{"c":"r","s":"r2","t":135,"y":-0.1},{"c":"r","s":"r2","t":150,"y":-0.55},{"c":"r","s":"r2","t":165,"y":-0.9},{"c":"r","s":"r2","t":180,"y":-1.15},{"c":"r","s":"r2","t":200,"y":-1.3},{"c":"r","s":"r2","t":230,"y":-1.35},{"c":"r","s":"r2","t":260,"y":-1.35},{"c":"r","s":"r2","t":300,"y":-1.4},{"c":"r","s":"r2","t":350,"y":-1.3},{"c":"r","s":"r2","t":400,"y":-1.2},{"c":"r","s":"r2","t":450,"y":-1.2},{"c":"r","s":"r2","t":500,"y":-1.15},{"c":"r","s":"r2","t":550,"y":-1.0},{"c":"r","s":"r2","t":600,"y":-0.95},{"c":"r","s":"r2","t":650,"y":-0.95},{"c":"r","s":"r2","t":700,"y":-0.9},{"c":"r","s":"r2","t":750,"y":-0.85},{"c":"r","s":"r2","t":800,"y":-0.8},{"c":"r","s":"r2","t":850,"y":-0.8},{"c":"r","s":"r2","t":900,"y":-0.8},{"c":"r","s":"r2","t":950,"y":-0.75},{"c":"r","s":"r2","t":1000,"y":-0.8}]
},
"columns":2,
"spacing":{"row":62,"column":84},
"bounds":"flush",
"concat":[
{"width":295,"height":217,
"encoding":{"x":{"field":"t","type":"quantitative","scale":{"domain":[-50,1000],"nice":false,"zero":false},"axis":{"values":[0,100,200,300,400,500,600,700,800,900,1000],"format":"d","labelExpr":"datum.value % 200 == 0 ? datum.label : ''","title":"time (s)"}},
"y":{"field":"y","type":"quantitative","scale":{"domain":[-2,15],"nice":false,"zero":false},"axis":{"values":[-2,-1,0,1,2,3,4,5,6,7,8,9,10,11,12,13,14,15],"format":"d","title":"bound (RU)"}}},
"layer":[
{"data":{"name":"A"},"mark":{"type":"line","strokeWidth":1.2},"encoding":{"color":{"field":"c","type":"nominal","scale":{"domain":["k","o","p","b","m","g","r"],"range":["#3b3b3b","#ff9a2e","#b04cb0","#3347e6","#ff4dff","#1f8f1f","#ff2b2b"]},"legend":null},"detail":{"field":"s"}}},
{"data":{"name":"S"},"transform":[{"filter":"datum.p=='A'"}],"mark":{"type":"rule","strokeWidth":1},"encoding":{"y2":{"field":"y2"},"color":{"field":"c","type":"nominal","legend":null}}},
{"data":{"name":"L"},"transform":[{"filter":"datum.p=='A' && datum.k=='L'"}],"mark":{"type":"text","font":"Liberation Sans","fontWeight":"bold","fontSize":22,"align":"left","baseline":"alphabetic","color":"#000"},"encoding":{"text":{"field":"txt"}}},
{"data":{"name":"L"},"transform":[{"filter":"datum.p=='A' && datum.k=='T'"}],"mark":{"type":"text","font":"Lato","fontSize":18,"align":"right","baseline":"alphabetic","color":"#111"},"encoding":{"text":{"field":"txt"}}}
]},
{"width":295,"height":217,
"encoding":{"x":{"field":"t","type":"quantitative","scale":{"domain":[-50,1000],"nice":false,"zero":false},"axis":{"values":[0,200,400,600,800,1000],"format":"d","labelExpr":"datum.value % 400 == 0 ? datum.label : ''","title":"time (s)"}},
"y":{"field":"y","type":"quantitative","scale":{"domain":[-2,12.5],"nice":false,"zero":false},"axis":{"values":[-2,-1,0,1,2,3,4,5,6,7,8,9,10,11,12],"format":"d","title":"bound (RU)"}}},
"layer":[
{"data":{"name":"B"},"mark":{"type":"line","strokeWidth":1.2},"encoding":{"color":{"field":"c","type":"nominal","scale":{"domain":["k","o","p","b","m","g","r"],"range":["#3b3b3b","#ff9a2e","#b04cb0","#3347e6","#ff4dff","#1f8f1f","#ff2b2b"]},"legend":null},"detail":{"field":"s"}}},
{"data":{"name":"S"},"transform":[{"filter":"datum.p=='B'"}],"mark":{"type":"rule","strokeWidth":1},"encoding":{"y2":{"field":"y2"},"color":{"field":"c","type":"nominal","legend":null}}},
{"data":{"name":"L"},"transform":[{"filter":"datum.p=='B' && datum.k=='L'"}],"mark":{"type":"text","font":"Liberation Sans","fontWeight":"bold","fontSize":22,"align":"left","baseline":"alphabetic","color":"#000"},"encoding":{"text":{"field":"txt"}}},
{"data":{"name":"L"},"transform":[{"filter":"datum.p=='B' && datum.k=='T'"}],"mark":{"type":"text","font":"Lato","fontSize":18,"align":"right","baseline":"alphabetic","color":"#111"},"encoding":{"text":{"field":"txt"}}}
]},
{"width":295,"height":214,
"encoding":{"x":{"field":"t","type":"quantitative","scale":{"domain":[-50,1000],"nice":false,"zero":false},"axis":{"values":[0,100,200,300,400,500,600,700,800,900,1000],"format":"d","labelExpr":"datum.value % 200 == 0 ? datum.label : ''","title":"time (s)"}},
"y":{"field":"y","type":"quantitative","scale":{"domain":[-1.78,7.84],"nice":false,"zero":false},"axis":{"values":[-1,0,1,2,3,4,5,6,7],"format":"d","title":"bound (RU)"}}},
"layer":[
{"data":{"name":"C"},"mark":{"type":"line","strokeWidth":1.2},"encoding":{"color":{"field":"c","type":"nominal","scale":{"domain":["k","o","p","b","m","g","r"],"range":["#3b3b3b","#ff9a2e","#b04cb0","#3347e6","#ff4dff","#1f8f1f","#ff2b2b"]},"legend":null},"detail":{"field":"s"}}},
{"data":{"name":"S"},"transform":[{"filter":"datum.p=='C'"}],"mark":{"type":"rule","strokeWidth":1},"encoding":{"y2":{"field":"y2"},"color":{"field":"c","type":"nominal","legend":null}}},
{"data":{"name":"L"},"transform":[{"filter":"datum.p=='C' && datum.k=='L'"}],"mark":{"type":"text","font":"Liberation Sans","fontWeight":"bold","fontSize":22,"align":"left","baseline":"alphabetic","color":"#000"},"encoding":{"text":{"field":"txt"}}},
{"data":{"name":"L"},"transform":[{"filter":"datum.p=='C' && datum.k=='T'"}],"mark":{"type":"text","font":"Lato","fontSize":18,"align":"right","baseline":"alphabetic","color":"#111"},"encoding":{"text":{"field":"txt"}}}
]},
{"width":295,"height":214,
"encoding":{"x":{"field":"t","type":"quantitative","scale":{"domain":[-50,1000],"nice":false,"zero":false},"axis":{"values":[0,100,200,300,400,500,600,700,800,900,1000],"format":"d","labelExpr":"datum.value % 200 == 0 ? datum.label : ''","title":"time (s)"}},
"y":{"field":"y","type":"quantitative","scale":{"domain":[-2,4.9],"nice":false,"zero":false},"axis":{"values":[-2,-1,0,1,2,3,4],"format":"d","title":null}}},
"layer":[
{"data":{"name":"D"},"mark":{"type":"line","strokeWidth":1.1},"encoding":{"color":{"field":"c","type":"nominal","scale":{"domain":["k","o","p","b","m","g","r"],"range":["#3b3b3b","#ff9a2e","#b04cb0","#3347e6","#ff4dff","#1f8f1f","#ff2b2b"]},"legend":null},"detail":{"field":"s"}}},
{"data":{"name":"S"},"transform":[{"filter":"datum.p=='D'"}],"mark":{"type":"rule","strokeWidth":1},"encoding":{"y2":{"field":"y2"},"color":{"field":"c","type":"nominal","legend":null}}},
{"data":{"name":"L"},"transform":[{"filter":"datum.p=='D' && datum.k=='L'"}],"mark":{"type":"text","font":"Liberation Sans","fontWeight":"bold","fontSize":22,"align":"left","baseline":"alphabetic","color":"#000"},"encoding":{"text":{"field":"txt"}}},
{"data":{"name":"L"},"transform":[{"filter":"datum.p=='D' && datum.k=='T'"}],"mark":{"type":"text","font":"Lato","fontSize":18,"align":"right","baseline":"alphabetic","color":"#111"},"encoding":{"text":{"field":"txt"}}}
]}
]
}
